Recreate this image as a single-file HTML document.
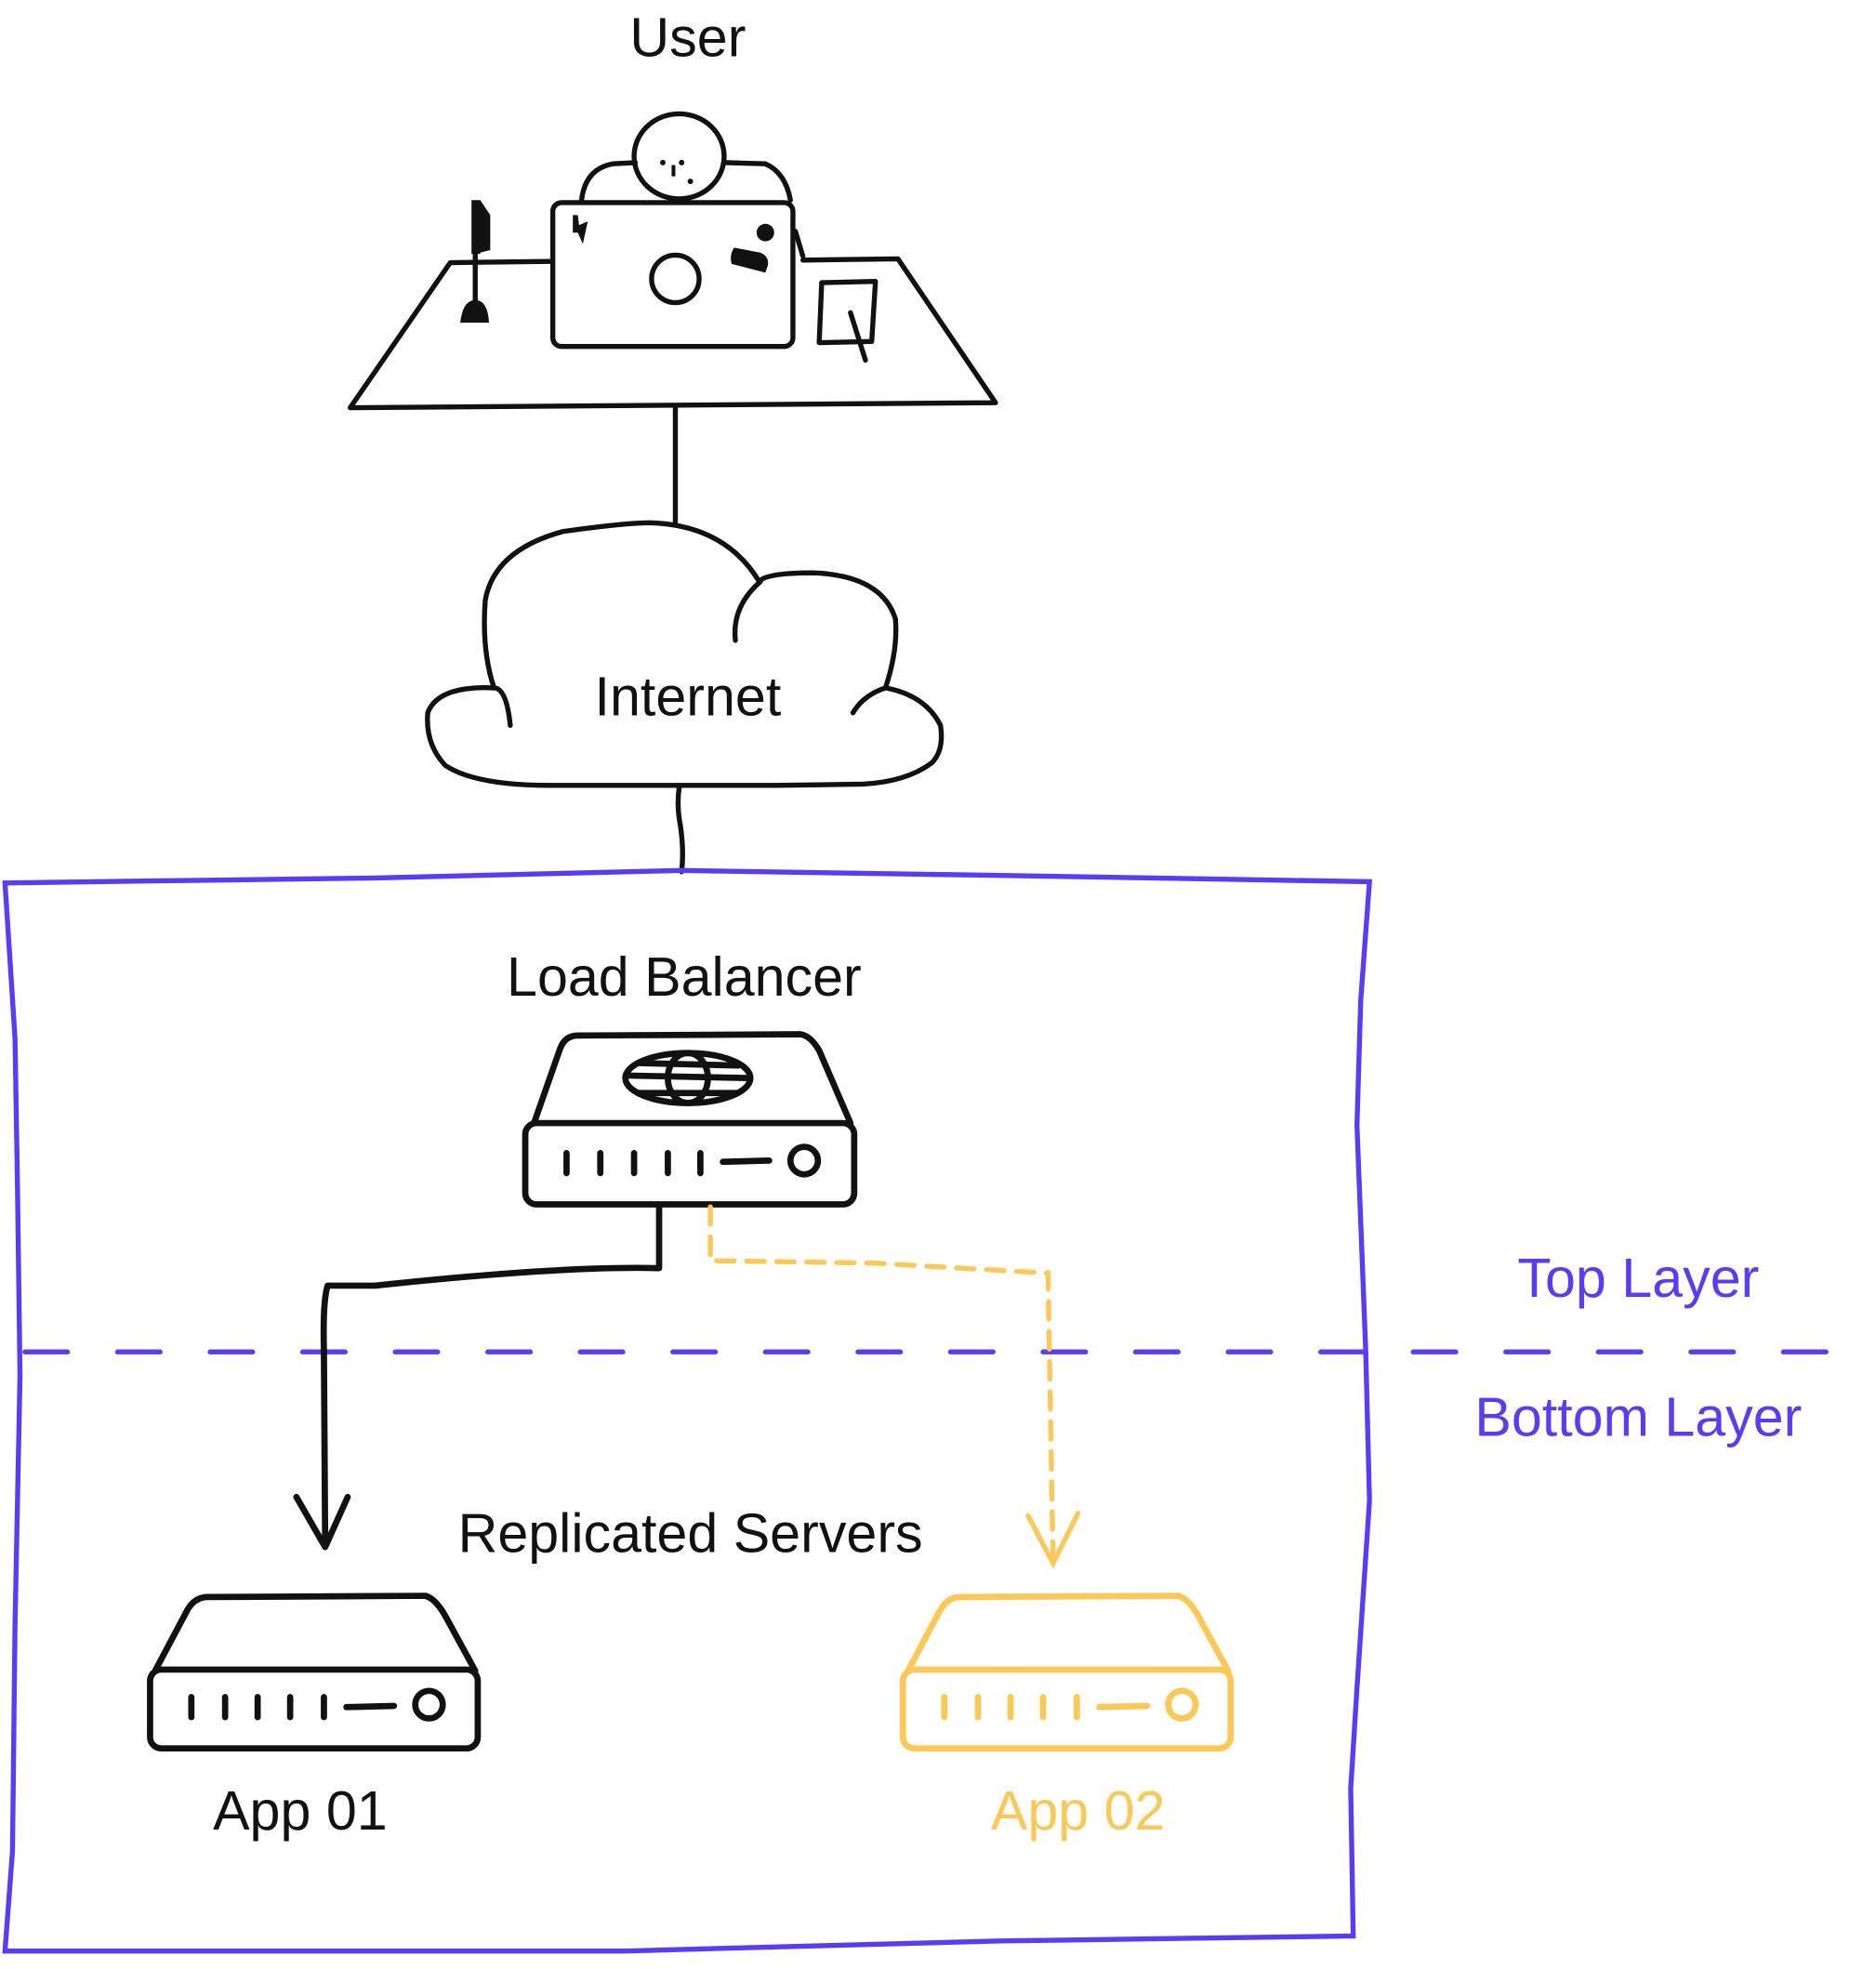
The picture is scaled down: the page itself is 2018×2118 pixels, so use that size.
<!DOCTYPE html>
<html><head><meta charset="utf-8"><style>
html,body{margin:0;padding:0;background:#fff;}
svg{display:block;}
text{font-family:"Liberation Sans",sans-serif;}
</style></head><body>
<svg width="2018" height="2118" viewBox="0 0 1500 1574.4" preserveAspectRatio="none" xmlns="http://www.w3.org/2000/svg">
<g fill="none" stroke="#111" stroke-width="4" stroke-linecap="round" stroke-linejoin="round">
<!-- user -->
<path d="M465,160 Q468,135 490,131 L508,130"/>
<path d="M580,130 L612,131 Q628,138 632,160"/>
<ellipse cx="543" cy="125" rx="36" ry="34"/>
<rect x="442" y="162" width="192" height="115" rx="7" fill="#fff"/>
<circle cx="540" cy="223" r="19"/>
<path d="M636,185 L642,205"/>
<!-- desk -->
<path d="M440,209 L360,210 L280,326 L796,322 L718,207 L642,208"/>
<path d="M380,165 L380,252"/>
<path d="M657,226 L700,225 L697,273 L655,274 Z"/>
<path d="M680,250 L692,288"/>
<!-- connectors -->
<path d="M540,326 L540,418"/>
<!-- cloud -->
<path d="M408,580 Q405,550 395,550 Q385,520 388,480 Q395,440 450,425 Q500,418 520,418 Q580,420 607,465 Q612,458 650,458 Q705,460 716,495 Q718,520 708,550 Q740,556 752,580 Q755,600 745,610 Q725,625 690,627 L620,628 L440,628 Q380,628 356,612 Q340,595 342,570 Q350,548 395,550"/>
<path d="M588,512 Q585,485 608,465"/>
<path d="M682,570 Q690,556 708,550"/>
<path d="M543,630 Q541,645 544,660 Q547,680 545,697"/>
</g>
<g fill="#111">
<path d="M377,160 L384,160 L392,172 L392,200 L384,202 L384,203 L377,203 Z"/>
<path d="M368,258 Q370,240 380,240 Q390,240 391,258 Z"/>
<circle cx="612" cy="186" r="7"/>
<path d="M587,198 L608,202 Q615,205 614,212 L612,218 L585,211 Q583,204 587,198 Z"/>
<path d="M458,172 L462,172 L463,180 L470,177 L466,195 L462,186 L458,186 Z"/>
<circle cx="530" cy="130" r="2.2"/><circle cx="545" cy="130" r="2.2"/><circle cx="552" cy="145" r="2.2"/><rect x="537" y="132" width="3" height="9"/>
</g>
<text x="550" y="45" font-size="44" text-anchor="middle" fill="#111">User</text>
<text x="550" y="572" font-size="44" text-anchor="middle" fill="#111">Internet</text>

<!-- purple box -->
<g fill="none" stroke="#5a3cf5" stroke-width="4" stroke-linecap="round">
<path d="M4,706 L300,702 L545,696 L800,700 L1095,705 L1088,800 L1085,900 L1092,1080 L1095,1200 L1085,1350 L1080,1430 L1082,1548 L800,1552 L500,1560 L4,1560 L10,1480 L12,1300 L16,1100 L14,950 L12,830 Z"/>
<path d="M20,1081 L1495,1081" stroke-dasharray="34,40"/>
</g>
<text x="1310" y="1037" font-size="44" text-anchor="middle" fill="#5a3cf5">Top Layer</text>
<text x="1310" y="1148" font-size="44" text-anchor="middle" fill="#5a3cf5">Bottom Layer</text>

<text x="547" y="796" font-size="44" text-anchor="middle" fill="#111">Load Balancer</text>
<!-- LB device -->
<g fill="none" stroke="#111" stroke-width="5" stroke-linecap="round" stroke-linejoin="round">
<path d="M427,898 L448,838 Q452,828 462,828 L640,827 Q648,828 655,840 L680,898"/>
<rect x="420" y="898" width="263" height="65" rx="9"/>
<ellipse cx="550" cy="862" rx="50" ry="20"/>
<ellipse cx="550" cy="862" rx="16" ry="20"/>
<path d="M502,860 L598,862 M510,850 L590,852 M510,874 L590,874"/>
<path d="M453,922 V938 M480,922 V938 M507,922 V938 M534,922 V938 M560,922 V938 M578,929 L615,928"/>
<circle cx="643" cy="928" r="11"/>
<path d="M527,963 L527,1014 Q450,1012 300,1028 L262,1028 Q258,1040 259,1080 L260,1235"/>
<path d="M237,1197 L260,1237 L278,1197"/>
</g>
<g fill="none" stroke="#fcc858" stroke-width="4" stroke-linecap="round">
<path d="M568,965 L568,1008 L700,1010 L838,1018 L842,1248" stroke-dasharray="14,10"/>
<path d="M822,1212 L842,1250 L862,1210"/>
</g>
<text x="552" y="1241" font-size="44" text-anchor="middle" fill="#111">Replicated Servers</text>
<!-- App01 -->
<g fill="none" stroke="#111" stroke-width="5" stroke-linecap="round" stroke-linejoin="round">
<path d="M124,1336 L150,1287 Q156,1277 166,1277 L340,1276 Q348,1278 356,1292 L380,1336"/>
<rect x="120" y="1335" width="262" height="63" rx="9"/>
<path d="M153,1357 V1373 M180,1357 V1373 M206,1357 V1373 M232,1357 V1373 M259,1357 V1373 M277,1365 L315,1364"/>
<circle cx="343" cy="1363" r="11"/>
</g>
<text x="240" y="1463" font-size="44" text-anchor="middle" fill="#111">App 01</text>
<!-- App02 -->
<g fill="none" stroke="#fcc858" stroke-width="5" stroke-linecap="round" stroke-linejoin="round" transform="translate(602,0)">
<path d="M124,1336 L150,1287 Q156,1277 166,1277 L340,1276 Q348,1278 356,1292 L380,1336"/>
<rect x="120" y="1335" width="262" height="63" rx="9"/>
<path d="M153,1357 V1373 M180,1357 V1373 M206,1357 V1373 M232,1357 V1373 M259,1357 V1373 M277,1365 L315,1364"/>
<circle cx="343" cy="1363" r="11"/>
</g>
<text x="862" y="1463" font-size="44" text-anchor="middle" fill="#fcc858">App 02</text>
</svg>
</body></html>
